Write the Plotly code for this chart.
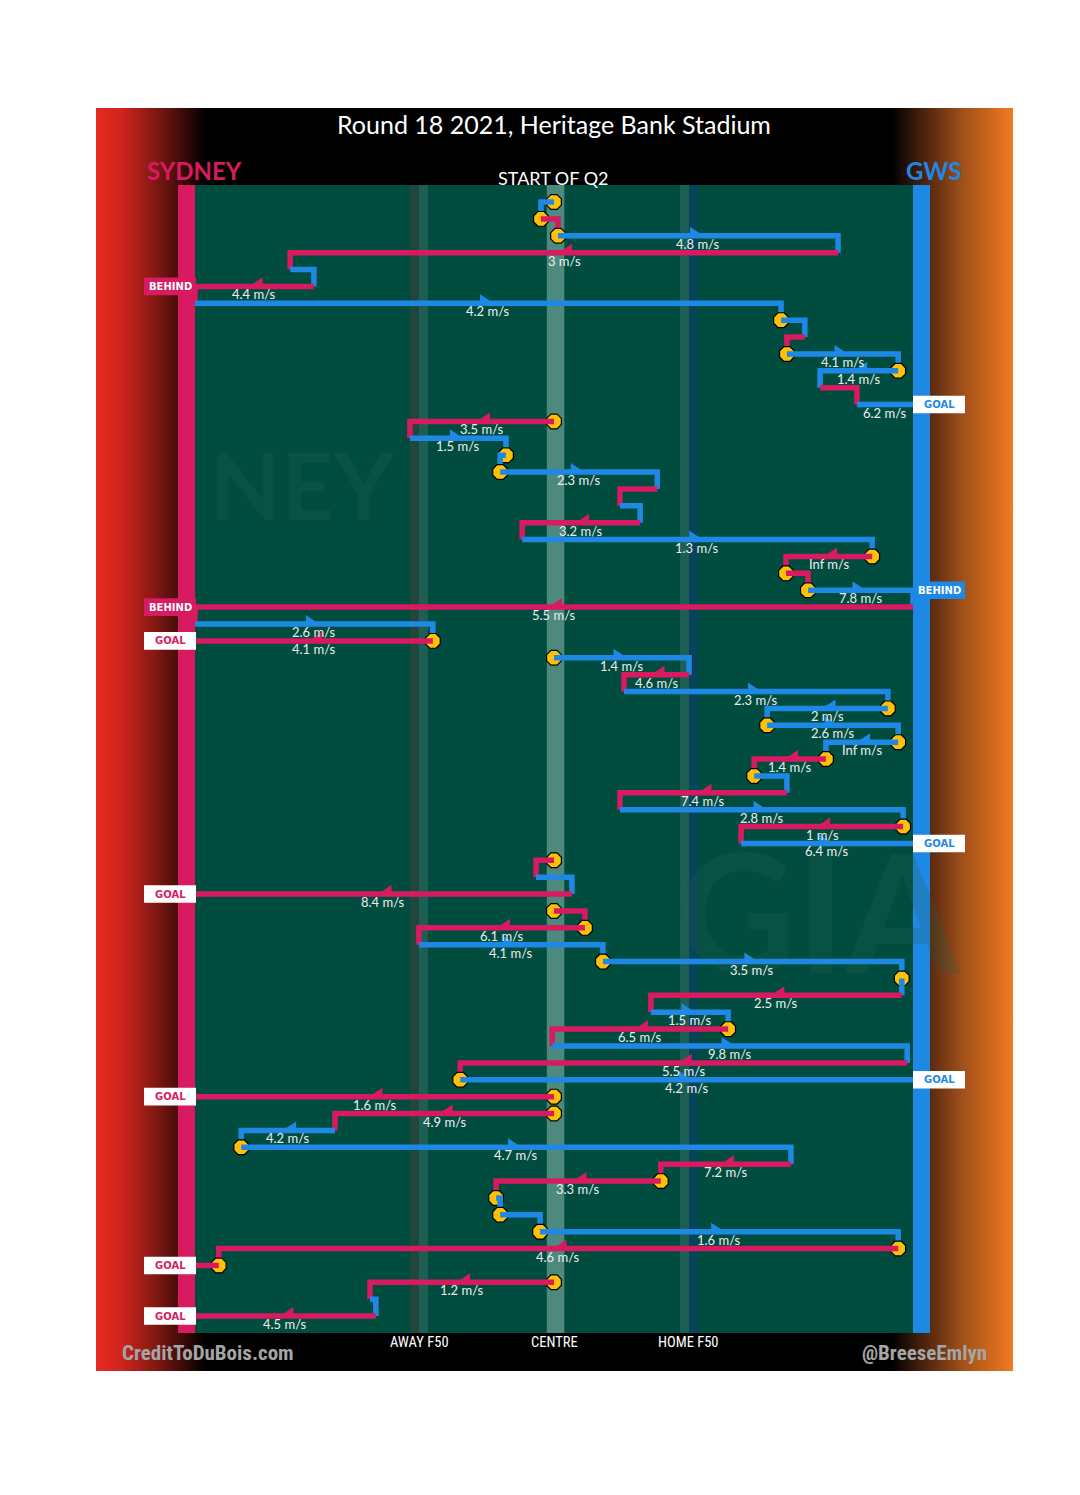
import base64
import plotly.graph_objects as go

# ---------------- data ----------------
# one row per possession chain segment, top (start of Q2) to bottom
# team in possession: "S" = Sydney, "G" = GWS
TEAM = ["G", "S", "G", "S", "G", "S", "G", "G", "S", "G",
        "G", "S", "G", "S", "G", "G", "G", "S", "G", "S",
        "G", "S", "S", "G", "S", "G", "S", "G", "S", "G",
        "G", "G", "G", "S", "G", "S", "G", "S", "G", "S",
        "G", "S", "S", "S", "G", "G", "G", "S", "G", "S",
        "G", "S", "G", "S", "S", "G", "G", "S", "S", "G",
        "G", "G", "S", "S", "S", "G", "S"]

# ball position at the end of each segment, metres from centre
# (-80 = Sydney goal line on the left, +80 = GWS goal line on the right)
X_TO = [-2.9, 0.9, 63.3, -58.8, -53.5, -80.0, 50.6, 55.9, 51.9, 76.7,
        59.3, 67.5, 80.0, -32.1, -10.7, -12.0, 23.0, 14.7, 19.2, -7.1,
        70.9, 51.7, 56.6, 80.0, -80.0, -27.0, -80.0, 30.1, 15.6, 74.4,
        47.5, 76.7, 60.6, 44.6, 51.9, 14.7, 77.8, 41.7, 80.0, -4.0,
        4.0, -80.0, 6.9, -30.1, 10.9, 77.5, 77.5, 21.6, 38.8, -0.4,
        78.7, -20.9, 80.0, -80.0, -48.8, -69.7, 52.8, 23.8, -12.9, -12.0,
        -3.1, 76.7, -74.7, -80.0, -41.0, -39.7, -80.0]

# ball speed label for each segment ("" = no label)
SPEED = ["", "", "4.8", "3", "", "4.4", "4.2", "", "", "4.1",
         "1.4", "", "6.2", "3.5", "1.5", "", "2.3", "", "", "3.2",
         "1.3", "Inf", "", "7.8", "5.5", "2.6", "4.1", "1.4", "4.6", "2.3",
         "2", "2.6", "Inf", "1.4", "", "7.4", "2.8", "1", "6.4", "",
         "", "8.4", "", "6.1", "4.1", "3.5", "", "2.5", "1.5", "6.5",
         "9.8", "5.5", "4.2", "1.6", "4.9", "4.2", "4.7", "7.2", "3.3", "",
         "", "1.6", "4.6", "", "1.2", "", "4.5"]

# rows that end with a score
RESULT_ROWS = [5, 12, 23, 24, 26, 38, 41, 52, 53, 63, 66]
RESULT_KIND = ["BEHIND", "GOAL", "BEHIND", "BEHIND", "GOAL", "GOAL",
               "GOAL", "GOAL", "GOAL", "GOAL", "GOAL"]

# rows that start at a stoppage (yellow marker)
STOPPAGE_ROWS = [0, 1, 2, 7, 9, 10, 13, 15, 16, 21, 22, 23, 26, 27, 30, 31,
                 32, 33, 34, 37, 39, 42, 43, 45, 46, 49, 52, 53, 54, 56, 58,
                 59, 60, 61, 62, 63, 64]

# labelled rows drawn without a direction arrow
NO_ARROW_ROWS = [12]

TITLE = "Round 18 2021, Heritage Bank Stadium"
PERIOD = "START OF Q2"
ZONE_LABELS = ["AWAY F50", "CENTRE", "HOME F50"]
ZONE_X = [-30.0, 0.0, 30.0]

# ---------------- style ----------------
COL = {"S": "#D81B60", "G": "#1E88E5"}
FIELD = "#004D40"
STOP_COL = "#FFC107"
PX_PER_M = 4.4875
PX_PER_ROW = 16.88
X0_PX, Y0_PX = 554.0, 202.0
PAGE_OFFSET = 8          # browser body margin
NARROW = "Liberation Sans Narrow, Arial Narrow, Roboto Condensed, sans-serif"


def mx(px):
    return (px - X0_PX) / PX_PER_M


def ry(py):
    return (py - Y0_PX) / PX_PER_ROW


result = dict(zip(RESULT_ROWS, RESULT_KIND))
n = len(TEAM)
x_from = []
for i in range(n):
    if i == 0 or result.get(i - 1) == "GOAL":
        x_from.append(0.0)
    else:
        x_from.append(X_TO[i - 1])

fig = go.Figure()

# faint logo watermarks (below everything)
fig.add_trace(go.Scatter(
    x=[mx(302), mx(818)], y=[ry(497), ry(932)], mode="text",
    text=["<b>NEY</b>", "<b>GIA</b>"],
    textfont=dict(family="Lato", size=[92, 165], color="rgba(40,95,75,0.22)"),
    hoverinfo="skip", showlegend=False))

for i in range(n):
    c = COL[TEAM[i]]
    if i in STOPPAGE_ROWS:
        fig.add_trace(go.Scatter(
            x=[x_from[i]], y=[i], mode="markers",
            marker=dict(symbol="octagon", size=16, color=STOP_COL,
                        line=dict(color="black", width=1.2)),
            hoverinfo="skip", showlegend=False))
    xs = [x_from[i], X_TO[i]]
    ys = [i, i]
    if i < n - 1 and result.get(i) != "GOAL":
        xs.append(X_TO[i])
        ys.append(i + 1)
    fig.add_trace(go.Scatter(
        x=xs, y=ys, mode="lines", line=dict(color=c, width=5.5),
        hoverinfo="skip", showlegend=False))

# direction arrows (half barbs at segment midpoints)
AW = 16 / PX_PER_M
AH = 9 / PX_PER_ROW
for t in ["S", "G"]:
    ax, ay = [], []
    for i in range(n):
        if TEAM[i] != t or SPEED[i] == "" or i in NO_ARROW_ROWS:
            continue
        d = 1 if X_TO[i] >= x_from[i] else -1
        mid = (x_from[i] + X_TO[i]) / 2
        back = mid - d * AW / 2
        tip = mid + d * AW / 2
        ax += [back, back, tip, back, None]
        ay += [i + 0.1, i - AH, i + 0.1, i + 0.1, None]
    fig.add_trace(go.Scatter(
        x=ax, y=ay, mode="lines", fill="toself", fillcolor=COL[t],
        line=dict(width=0, color=COL[t]), hoverinfo="skip", showlegend=False))

shapes = []
# field, zone bands, goal bars
fy0, fy1 = ry(185), ry(1333)
shapes.append(dict(type="rect", x0=-80, x1=80, y0=fy0, y1=fy1,
                   fillcolor=FIELD, line=dict(width=0), layer="below"))
bands = [(-32.1, -30.1, "#21473C"), (-30.1, -28.1, "#1D5E55"),
         (-1.6, 2.3, "#4E897E"),
         (28.1, 30.1, "#1D5E55"), (30.1, 32.1, "#074459")]
for b0, b1, bc in bands:
    shapes.append(dict(type="rect", x0=b0, x1=b1, y0=fy0, y1=fy1,
                       fillcolor=bc, line=dict(width=0), layer="below"))
shapes.append(dict(type="rect", x0=mx(178), x1=-80, y0=fy0, y1=fy1,
                   fillcolor=COL["S"], line=dict(width=0), layer="below"))
shapes.append(dict(type="rect", x0=80, x1=mx(930), y0=fy0, y1=fy1,
                   fillcolor=COL["G"], line=dict(width=0), layer="below"))

annotations = []
# speed labels
for i in range(n):
    if SPEED[i]:
        annotations.append(dict(
            x=(x_from[i] + X_TO[i]) / 2, y=i, yshift=-8,
            text=f"{SPEED[i]} m/s", showarrow=False,
            font=dict(family="Lato", size=13, color="#EEEEEE")))

# score boxes
for r, kind in result.items():
    t = TEAM[r]
    if t == "S":
        bx0, bx1 = mx(144), mx(196)
    else:
        bx0, bx1 = mx(913), mx(965)
    if kind == "GOAL":
        fill, tc = "white", COL[t]
    else:
        fill, tc = COL[t], "white"
    shapes.append(dict(type="rect", x0=bx0, x1=bx1, y0=r - 0.52, y1=r + 0.52,
                       fillcolor=fill, line=dict(width=0), layer="above"))
    annotations.append(dict(
        x=(bx0 + bx1) / 2, y=r, text=f"<b>{kind}</b>", showarrow=False,
        font=dict(family="DejaVu Sans", size=10, color=tc)))

# header / footer text
annotations += [
    dict(x=mx(554), y=ry(124), text=TITLE, showarrow=False,
         font=dict(family="Lato", size=25, color="white")),
    dict(x=mx(194), y=ry(170), text="<b>SYDNEY</b>", showarrow=False,
         font=dict(family="Lato", size=24, color=COL["S"])),
    dict(x=mx(934), y=ry(170), text="<b>GWS</b>", showarrow=False,
         font=dict(family="Lato", size=24, color=COL["G"])),
    dict(x=mx(553), y=ry(178), text=PERIOD, showarrow=False,
         font=dict(family="Lato", size=18, color="white")),
    dict(x=mx(208), y=ry(1353), text="<b>CreditToDuBois.com</b>", showarrow=False,
         font=dict(family=NARROW, size=21, color="#A5A5A5")),
    dict(x=mx(924), y=ry(1353), text="<b>@BreeseEmlyn</b>", showarrow=False,
         font=dict(family=NARROW, size=21, color="#A5A5A5")),
]
for lab, zx in zip(ZONE_LABELS, ZONE_X):
    annotations.append(dict(
        x=zx, y=ry(1342), text=lab, showarrow=False,
        font=dict(family=NARROW, size=14.5, color="white")))

# background panel with side gradients
svg = ('<svg xmlns="http://www.w3.org/2000/svg" width="917" height="1263" '
       'viewBox="0 0 917 1263" preserveAspectRatio="none"><defs>'
       '<linearGradient id="g" x1="0" y1="0" x2="1" y2="0">'
       '<stop offset="0" stop-color="#E52A20"/>'
       '<stop offset="0.025" stop-color="#D2261D"/>'
       '<stop offset="0.06" stop-color="#8C1A14"/>'
       '<stop offset="0.12" stop-color="#000000"/>'
       '<stop offset="0.868" stop-color="#000000"/>'
       '<stop offset="0.91" stop-color="#5A2A10"/>'
       '<stop offset="0.945" stop-color="#A0501A"/>'
       '<stop offset="1" stop-color="#F27A20"/>'
       '</linearGradient></defs>'
       '<rect width="917" height="1263" fill="url(#g)"/></svg>')
src = "data:image/svg+xml;base64," + base64.b64encode(svg.encode()).decode()

fig.update_layout(
    width=1080, height=1495,
    margin=dict(l=96 - PAGE_OFFSET, r=1080 - 1013 + PAGE_OFFSET,
                t=108 - PAGE_OFFSET, b=1495 - 1371 + PAGE_OFFSET, pad=0),
    paper_bgcolor="white", plot_bgcolor="black",
    xaxis=dict(range=[mx(96), mx(1013)], visible=False, fixedrange=True),
    yaxis=dict(range=[ry(1371), ry(108)], visible=False, fixedrange=True),
    shapes=shapes, annotations=annotations,
    images=[dict(source=src, xref="paper", yref="paper", x=0, y=1,
                 sizex=1, sizey=1, xanchor="left", yanchor="top",
                 sizing="stretch", layer="below")],
    showlegend=False,
)

fig.write_html("out.html")
